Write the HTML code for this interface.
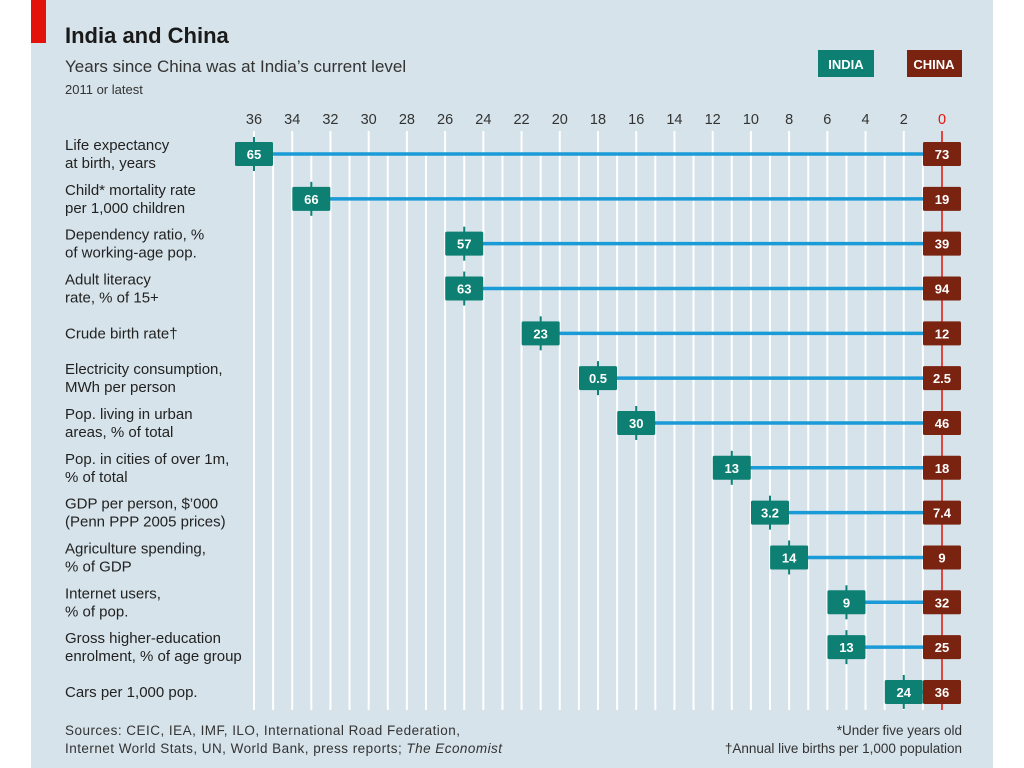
<!DOCTYPE html>
<html><head><meta charset="utf-8"><style>
body{margin:0;width:1024px;height:768px;background:#fff;overflow:hidden;font-family:"Liberation Sans",sans-serif}
svg{display:block}
</style></head><body>
<svg width="1024" height="768">
<rect x="31" y="0" width="962" height="768" fill="#d6e3ea"/>
<rect x="31" y="0" width="15" height="43" fill="#e3120b"/>
<text x="65" y="43" font-size="22" font-weight="bold" fill="#1a1a1a">India and China</text>
<text x="65" y="72" font-size="17" fill="#333">Years since China was at India’s current level</text>
<text x="65" y="94" font-size="13" fill="#333">2011 or latest</text>
<rect x="818" y="50" width="56" height="27" fill="#0d8073"/>
<text x="846" y="69" font-size="13" font-weight="bold" fill="#fff" text-anchor="middle">INDIA</text>
<rect x="907" y="50" width="55" height="27" fill="#7a2310"/>
<text x="934" y="69" font-size="13" font-weight="bold" fill="#fff" text-anchor="middle">CHINA</text>
<g id="grid"></g><g id="rows"></g>
<text x="65" y="735" font-size="13.5" fill="#333" textLength="395">Sources: CEIC, IEA, IMF, ILO, International Road Federation,</text>
<text x="65" y="753" font-size="13.5" fill="#333" textLength="437">Internet World Stats, UN, World Bank, press reports; <tspan font-style="italic">The Economist</tspan></text>
<text x="962" y="735" font-size="13.5" fill="#333" text-anchor="end">*Under five years old</text>
<text x="962" y="753" font-size="13.5" fill="#333" text-anchor="end">†Annual live births per 1,000 population</text>
</svg>
<script>
const labels=[["Life expectancy","at birth, years"],["Child* mortality rate","per 1,000 children"],["Dependency ratio, %","of working-age pop."],["Adult literacy","rate, % of 15+"],["Crude birth rate†"],["Electricity consumption,","MWh per person"],["Pop. living in urban","areas, % of total"],["Pop. in cities of over 1m,","% of total"],["GDP per person, $’000","(Penn PPP 2005 prices)"],["Agriculture spending,","% of GDP"],["Internet users,","% of pop."],["Gross higher-education","enrolment, % of age group"],["Cars per 1,000 pop."]];
const years=[36,33,25,25,21,18,16,11,9,8,5,5,2];
const indiaVals=["65","66","57","63","23","0.5","30","13","3.2","14","9","13","24"];
const chinaVals=["73","19","39","94","12","2.5","46","18","7.4","9","32","25","36"];
const ticks=[36,34,32,30,28,26,24,22,20,18,16,14,12,10,8,6,4,2,0];
const NS="http://www.w3.org/2000/svg";
const X=v=>942-v*(688/36);
const Y=i=>154+i*44.83;
function mk(t,a,p){const e=document.createElementNS(NS,t);for(const k in a)e.setAttribute(k,a[k]);p.appendChild(e);return e;}
const grid=document.getElementById('grid'),rows=document.getElementById('rows');
for(let v=1;v<=36;v++){
 const l=mk('line',{x1:X(v),x2:X(v),y1:v%2?152:131,y2:710,stroke:'#fff','stroke-width':2},grid);
 
 
}
const zl=mk('line',{x1:942,x2:942,y1:131,y2:710,stroke:'#e3120b','stroke-width':1.5},grid);


ticks.forEach(v=>{
 const t=mk('text',{x:X(v),y:124,'font-size':14.5,'text-anchor':'middle',fill:v===0?'#e3120b':'#333'},grid);
 t.textContent=v;
 
 
});
labels.forEach((lab,i)=>{
 const y=Y(i);
 const tx=mk('text',{x:65,'font-size':15,fill:'#222'},rows);
 
 
 lab.forEach((s,j)=>{const ts=mk('tspan',{x:65,y:lab.length===1?y+5:y-4+j*18},tx);ts.textContent=s;});
 const xi=X(years[i]);
 const ln=mk('line',{x1:xi,x2:942,y1:y,y2:y,stroke:'#1a9ad6','stroke-width':3.5},rows);
 
 
 const pm=mk('line',{x1:xi,x2:xi,y1:y-17,y2:y+17,stroke:'#0d8073','stroke-width':2},rows);
 
 
 const bi=mk('rect',{x:xi-19,y:y-12,width:38,height:24,rx:1.5,fill:'#0d8073'},rows);
 
 
 const ti=mk('text',{x:xi,y:y+5,'font-size':13,'font-weight':'bold',fill:'#fff','text-anchor':'middle'},rows);
 ti.textContent=indiaVals[i];
 
 
 const bc=mk('rect',{x:923,y:y-12,width:38,height:24,rx:1.5,fill:'#7a2310'},rows);
 
 
 const tc=mk('text',{x:942,y:y+5,'font-size':13,'font-weight':'bold',fill:'#fff','text-anchor':'middle'},rows);
 tc.textContent=chinaVals[i];
 
 
});
</script>
</body></html>
